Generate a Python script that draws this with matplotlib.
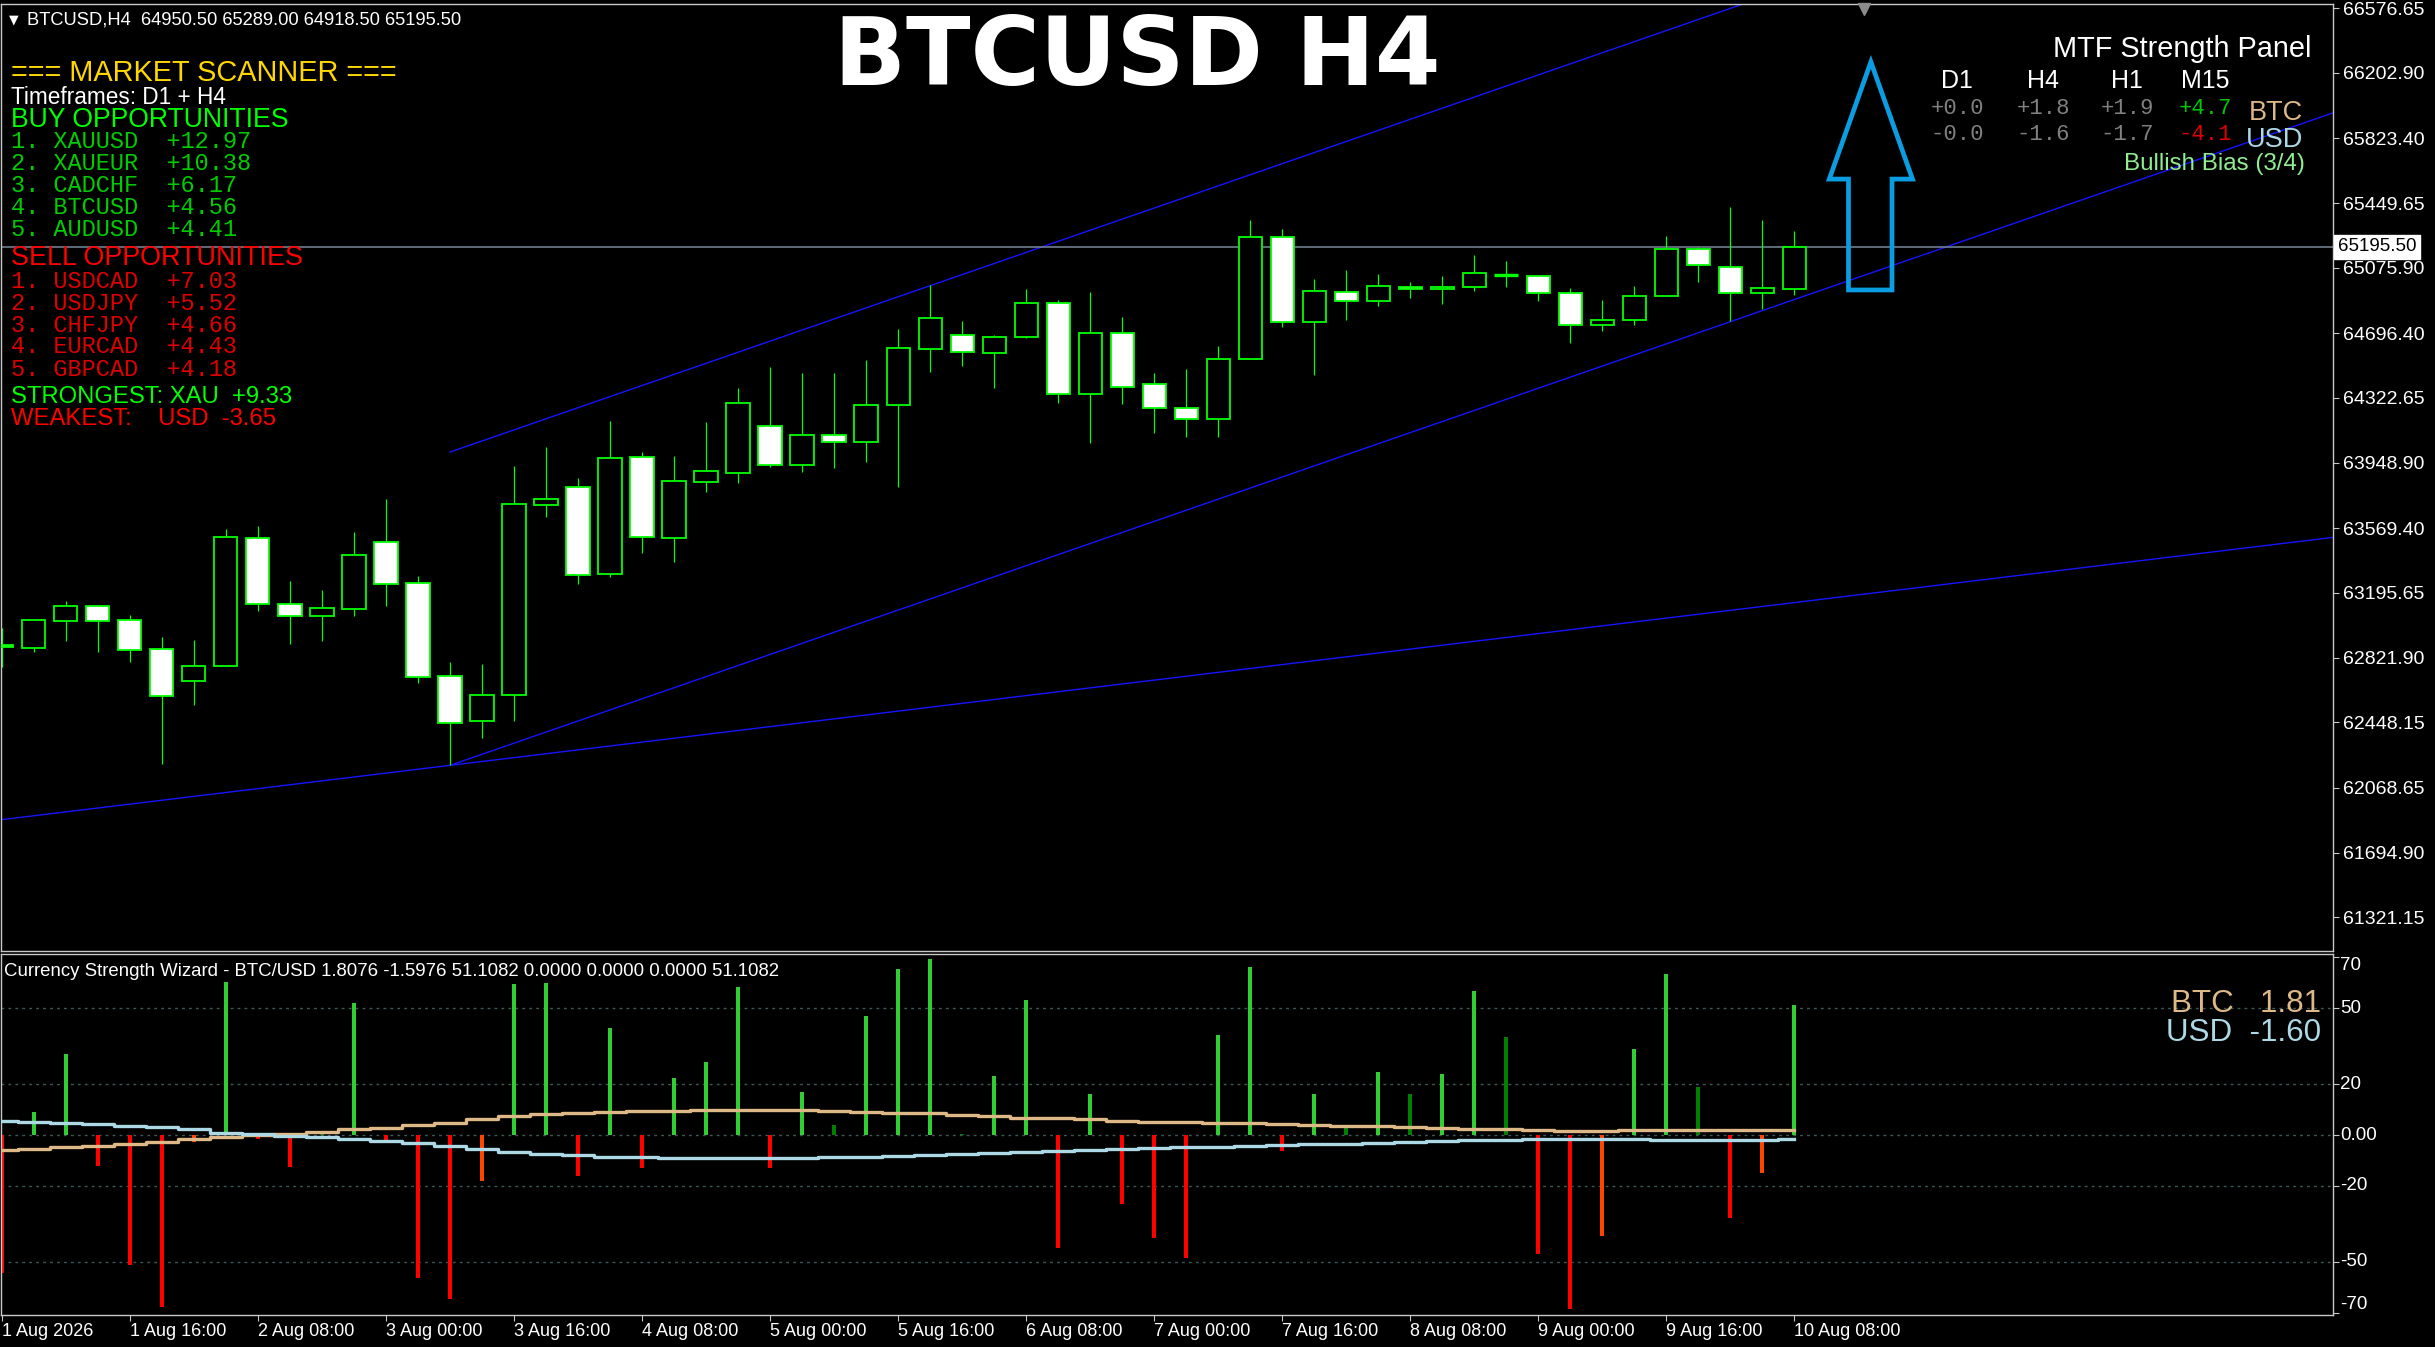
import matplotlib
matplotlib.use('Agg')
import matplotlib.pyplot as plt
from matplotlib.patches import Rectangle, Polygon
import matplotlib.transforms as mtransforms

W, H = 2435, 1347

# BTCUSD H4 candles, 1 Aug 2026 00:00 .. 10 Aug 2026 08:00
opens = [62892, 62875, 63035, 63118, 63037, 62870, 62685, 62771, 63511, 63130,
         63060, 63105, 63488, 63251, 62714, 62453, 62608, 63706, 63806, 63303,
         63980, 63511, 63839, 63891, 64159, 63937, 64107, 64066, 64280, 64608,
         64685, 64581, 64673, 64870, 64344, 64696, 64401, 64263, 64199, 64546,
         65251, 64760, 64933, 64881, 64963, 64951, 64963, 65034, 65026, 64928,
         64743, 64772, 64910, 65182, 65078, 64928, 64950.5]
highs = [62991, 63045, 63149, 63126, 63068, 62941, 62924, 63565, 63583, 63265,
         63213, 63548, 63739, 63294, 62796, 62785, 63930, 64040, 63860, 64189,
         64010, 63987, 64184, 64380, 64502, 64467, 64467, 64542, 64721, 64976,
         64767, 64687, 64952, 64889, 64935, 64791, 64467, 64490, 64623, 65351,
         65299, 65010, 65062, 65039, 64993, 65028, 65149, 65115, 65034, 64959,
         64889, 64970, 65259, 65198, 65427, 65352, 65289.0]
lows = [62766, 62852, 62918, 62856, 62798, 62209, 62548, 62771, 63093, 62902,
        62918, 63064, 63122, 62677, 62199, 62359, 62457, 63637, 63249, 63290,
        63428, 63376, 63780, 63833, 63925, 63896, 63920, 63954, 63810, 64475,
        64509, 64382, 64667, 64295, 64064, 64290, 64122, 64099, 64099, 64546,
        64735, 64457, 64775, 64856, 64903, 64868, 64943, 64966, 64885, 64643,
        64712, 64747, 64910, 64995, 64770, 64839, 64918.5]
closes = [62886, 63037, 63118, 63035, 62868, 62602, 62771, 63517, 63130, 63060,
          63107, 63413, 63249, 62712, 62446, 62604, 63708, 63737, 63297, 63974,
          63517, 63841, 63898, 64292, 63937, 64107, 64066, 64280, 64609, 64783,
          64586, 64673, 64870, 64344, 64696, 64384, 64263, 64199, 64546, 65251,
          64760, 64939, 64881, 64968, 64951, 64963, 65043, 65034, 64928, 64743,
          64772, 64910, 65182, 65090, 64928, 64957, 65195.5]

time_labels = ["1 Aug 2026", "1 Aug 16:00", "2 Aug 08:00", "3 Aug 00:00", "3 Aug 16:00",
               "4 Aug 08:00", "5 Aug 00:00", "5 Aug 16:00", "6 Aug 08:00", "7 Aug 00:00",
               "7 Aug 16:00", "8 Aug 08:00", "9 Aug 00:00", "9 Aug 16:00", "10 Aug 08:00"]

price_ticks = [66576.65, 66202.90, 65823.40, 65449.65, 65075.90, 64696.40, 64322.65,
               63948.90, 63569.40, 63195.65, 62821.90, 62448.15, 62068.65, 61694.90, 61321.15]

# Currency Strength Wizard histogram + lines
strength = [-54.5, 9.1, 31.9, -12.2, -51.4, -67.7, -2.6, 60.1, -1.7, -12.6,
            1.2, 52.0, -2.0, -56.2, -64.6, -18.0, 59.4, 59.8, -16.0, 42.1,
            -12.9, 22.4, 28.7, 58.3, -12.9, 16.9, 3.9, 46.9, 65.4, 69.5,
            0.4, 23.2, 53.1, -44.4, 16.1, -27.0, -40.4, -48.3, 39.4, 66.3,
            -6.3, 16.1, 2.9, 24.8, 16.1, 24.0, 56.7, 38.6, -46.7, -68.5,
            -39.8, 33.9, 63.4, 18.9, -32.5, -14.8, 51.1]
weak_bars = [6, 10, 15, 26, 30, 42, 44, 47, 50, 53, 55]
btc_line = [-5.9, -5.5, -4.9, -4.5, -3.5, -2.9, -1.7, -0.9, 0.0, 0.4,
            1.3, 2.2, 2.9, 3.8, 4.9, 6.2, 7.6, 8.3, 8.7, 9.2,
            9.4, 9.4, 9.7, 9.8, 9.8, 9.8, 9.4, 8.9, 8.5, 8.5,
            7.9, 7.5, 6.8, 6.6, 6.2, 5.6, 5.2, 5.0, 4.9, 4.7,
            4.3, 3.9, 3.5, 3.5, 3.1, 2.9, 2.4, 2.4, 2.0, 1.4,
            1.4, 1.9, 1.9, 1.9, 1.9, 1.9, 1.81]
usd_line = [5.5, 5.1, 4.6, 4.2, 3.5, 3.0, 2.2, 0.9, 0.4, -0.3,
            -0.9, -1.6, -2.2, -3.1, -4.2, -5.4, -6.8, -7.5, -7.9, -8.7,
            -8.7, -9.2, -9.2, -9.2, -9.2, -9.2, -8.8, -8.5, -8.1, -7.7,
            -7.3, -7.0, -6.7, -6.2, -5.8, -5.4, -5.1, -4.9, -4.9, -4.3,
            -4.1, -3.7, -3.6, -3.3, -2.8, -2.4, -2.1, -1.8, -1.6, -1.6,
            -1.6, -1.6, -2.1, -1.8, -1.8, -1.8, -1.6]
ind_ticks = [70, 50, 20, 0, -20, -50, -70]

# trend lines: (bar, price) pairs
flat_line = [(14, 62199), (72.8, 63516)]
channel_low = [(14, 62199), (73, 65981)]
channel_high = [(14, 64010), (73, 67792)]

# scanner panel
buy_pairs = ["XAUUSD", "XAUEUR", "CADCHF", "BTCUSD", "AUDUSD"]
buy_scores = [12.97, 10.38, 6.17, 4.56, 4.41]
sell_pairs = ["USDCAD", "USDJPY", "CHFJPY", "EURCAD", "GBPCAD"]
sell_scores = [7.03, 5.52, 4.66, 4.43, 4.18]

# MTF panel
mtf_frames = ["D1", "H4", "H1", "M15"]
mtf_btc = [0.0, 1.8, 1.9, 4.7]
mtf_usd = [-0.0, -1.6, -1.7, -4.1]

plt.rcParams['font.family'] = ['Liberation Sans', 'DejaVu Sans']
MONO = ['Liberation Mono', 'DejaVu Sans Mono']
LIME = '#00ff00'
AXC = '#c8c8c8'

fig = plt.figure(figsize=(W / 100, H / 100), dpi=100, facecolor='black')
ax = fig.add_axes([1 / W, 1 - 951 / H, 2332 / W, 947 / H], facecolor='black')
ax2 = fig.add_axes([1 / W, 1 - 1315 / H, 2332 / W, 361 / H], facecolor='black')

n = len(closes)
xlim = (-0.03, 72.84)

# ---- main chart ----
for i in range(n):
    o, hi, lo, c = opens[i], highs[i], lows[i], closes[i]
    ax.vlines(i, lo, hi, color=LIME, lw=0.9, zorder=2)
    if o == c:
        ax.hlines(o, i - 0.37, i + 0.37, color=LIME, lw=2.4, zorder=3)
    else:
        face = 'white' if c < o else 'black'
        ax.add_patch(Rectangle((i - 0.36, min(o, c)), 0.72, abs(c - o),
                               facecolor=face, edgecolor=LIME, lw=1.3, zorder=3))

ax.axline(flat_line[0], flat_line[1], color='#1414ff', lw=1.0, zorder=1)
for ln in (channel_low, channel_high):
    ax.plot([p[0] for p in ln], [p[1] for p in ln], color='#1414ff', lw=1.0, zorder=1)

ax.axhline(closes[-1], color='#778899', lw=1.1, zorder=1)

# big outline arrow next to the last bar
ab = n + 0.7
arrow = [(ab + 0.7, 66265), (ab + 2.0, 65588), (ab + 1.36, 65588), (ab + 1.36, 64947),
         (ab + 0.0, 64947), (ab + 0.0, 65588), (ab - 0.6, 65588)]
ax.add_patch(Polygon(arrow, closed=True, fill=False, edgecolor='#0a9de2', lw=3.4,
                     joinstyle='miter', zorder=4))
ax.plot([n + 1.2], [66572], marker='v', ms=9, color='#8c8c8c', zorder=5, clip_on=False)

ax.set_xlim(*xlim)
ax.set_ylim(61126, 66600)
ax.set_xticks([])
ax.yaxis.tick_right()
ax.set_yticks(price_ticks, [f"{v:.2f}" for v in price_ticks])
ax.tick_params(axis='y', colors=AXC, labelcolor='white', labelsize=14, length=4, pad=3)
for s in ax.spines.values():
    s.set_color(AXC)
    s.set_linewidth(1)

tr = mtransforms.offset_copy(mtransforms.blended_transform_factory(ax.transAxes, ax.transData),
                             fig=fig, x=5, y=0, units='dots')
ax.text(1.0, closes[-1], f"{closes[-1]:.2f}", transform=tr, ha='left', va='center',
        color='black', fontsize=13.5,
        bbox=dict(facecolor='white', edgecolor='white', pad=2.5))

# ---- indicator ----
idx = list(range(n))
colors = []
for i, v in enumerate(strength):
    if v >= 0:
        colors.append('#008000' if i in weak_bars else '#32cd32')
    else:
        colors.append('#ff4500' if i in weak_bars else '#ff0000')
ax2.bar(idx, strength, width=0.13, color=colors, zorder=2)
ax2.plot(idx, btc_line, color='#deb887', lw=2.4, drawstyle='steps-mid', zorder=3)
ax2.plot(idx, usd_line, color='#add8e6', lw=2.4, drawstyle='steps-mid', zorder=3)
for lv in [50, 20, 0, -20, -50]:
    ax2.axhline(lv, color='#3c5a5a', lw=1, ls=(0, (2, 3)), zorder=1)

ax2.set_xlim(*xlim)
ax2.set_ylim(-70.9, 71.3)
ax2.yaxis.tick_right()
ax2.set_yticks(ind_ticks, [])
ax2.tick_params(axis='y', colors=AXC, length=4)
ytr = mtransforms.offset_copy(mtransforms.blended_transform_factory(ax2.transAxes, ax2.transData),
                              fig=fig, x=7, y=0, units='dots')
for v in ind_ticks:
    lbl = "0.00" if v == 0 else str(v)
    va = 'top' if v == max(ind_ticks) else ('bottom' if v == min(ind_ticks) else 'center')
    ax2.text(1.0, v, lbl, transform=ytr, ha='left', va=va, color='white', fontsize=13.5)

ax2.set_xticks(range(0, n, 4), time_labels, ha='left')
ax2.tick_params(axis='x', colors=AXC, labelcolor='white', labelsize=13, length=4, pad=2)
for s in ax2.spines.values():
    s.set_color(AXC)
    s.set_linewidth(1)


def put(x, y, s, **kw):
    kw.setdefault('va', 'center')
    return fig.text(x / W, 1 - y / H, s, **kw)


# header texts
put(9, 20, "\u25bc", color='white', fontsize=9, family=['DejaVu Sans'])
put(27, 20, "BTCUSD,H4  64950.50 65289.00 64918.50 65195.50", color='white', fontsize=13.2)
put(1137, 85, "BTCUSD H4", color='white', fontsize=68, fontweight='bold', ha='center',
    va='baseline', family=['DejaVu Sans'])
put(4, 971, "Currency Strength Wizard - BTC/USD 1.8076 -1.5976 51.1082 0.0000 0.0000 0.0000 51.1082",
    color='white', fontsize=13.4)
put(2321, 1004, f"BTC   {btc_line[-1]:.2f}", color='#deb887', fontsize=22.6, ha='right')
put(2321, 1033, f"USD  {usd_line[-1]:.2f}", color='#add8e6', fontsize=22.6, ha='right')

# market scanner
put(11, 73, "=== MARKET SCANNER ===", color='#ffd700', fontsize=20.8)
put(11, 98, "Timeframes: D1 + H4", color='white', fontsize=16.3)
put(11, 120, "BUY OPPORTUNITIES", color=LIME, fontsize=19.2)
for k, (p, v) in enumerate(zip(buy_pairs, buy_scores)):
    put(11, 142 + 22 * k, f"{k + 1}. {p}  {v:+.2f}", color='#00cc00', fontsize=17, family=MONO)
put(11, 258, "SELL OPPORTUNITIES", color='#ff0000', fontsize=19.4)
for k, (p, v) in enumerate(zip(sell_pairs, sell_scores)):
    put(11, 281 + 22 * k, f"{k + 1}. {p}  {v:+.2f}", color='#dd0000', fontsize=17, family=MONO)
put(11, 397, "STRONGEST: XAU  +9.33", color=LIME, fontsize=17.2)
put(11, 419, "WEAKEST:    USD  -3.65", color='#ff0000', fontsize=17.2)

# MTF strength panel
put(2311, 49, "MTF Strength Panel", color='white', fontsize=20.8, ha='right')
col_x = [1957, 2043, 2127, 2205]
for cx, tf, b, u in zip(col_x, mtf_frames, mtf_btc, mtf_usd):
    put(cx, 81, tf, color='white', fontsize=18, ha='center')
    bc = '#00c800' if b > 3 else '#808080'
    uc = '#e00000' if u < -3 else '#808080'
    put(cx, 109, f"{b:+.1f}", color=bc, fontsize=16, ha='center', family=MONO)
    put(cx, 135, "-" + f"{abs(u):.1f}", color=uc, fontsize=16, ha='center', family=MONO)
put(2303, 113, "BTC", color='#deb887', fontsize=19.5, ha='right')
put(2303, 140, "USD", color='#add8e6', fontsize=19.5, ha='right')
put(2305, 164, "Bullish Bias (3/4)", color='#90ee90', fontsize=17.4, ha='right')

fig.savefig('out.png', dpi=100, facecolor='black')
